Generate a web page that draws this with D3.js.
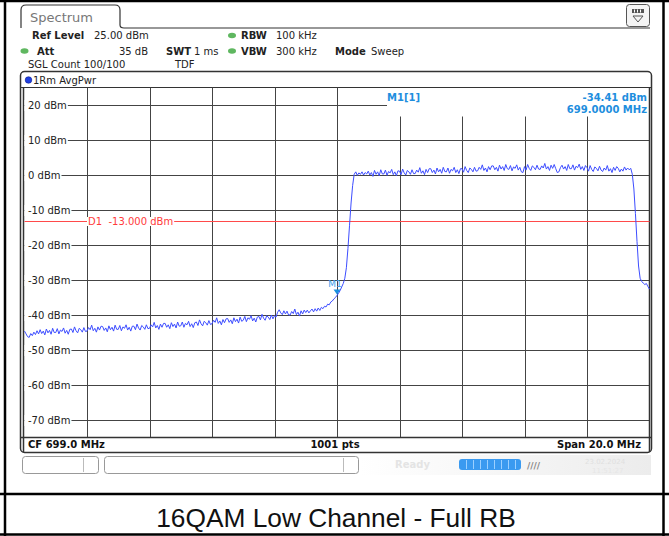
<!DOCTYPE html>
<html><head><meta charset="utf-8">
<script src="https://cdn.jsdelivr.net/npm/d3@7/dist/d3.min.js"></script>
<style>body{margin:0;background:#fff}svg{display:block}</style>
</head><body>
<script>
// ---------- data ----------
const freqStartMHz = 689.0;      // CF 699.0 MHz, span 20 MHz
const freqStopMHz = 709.0;
const freqStepMHz = 0.05;
// trace level (dBm) at each 0.05 MHz step from 689.0 to 709.0 (one row = 0.5 MHz)
const traceLevels = [
 -44.6,-45.4,-46.2,-46.4,-45.3,-45.9,-44.9,-45.6,-44.5,-45.4,
 -44.2,-45.3,-44.6,-45.7,-44.0,-45.1,-44.4,-45.5,-43.8,-45.0,
 -45.0,-43.9,-45.4,-44.3,-44.7,-43.7,-45.2,-44.4,-45.5,-44.1,
 -44.0,-45.0,-43.4,-44.5,-45.1,-43.8,-44.2,-44.9,-43.6,-44.7,
 -44.6,-43.6,-44.2,-42.9,-44.5,-43.8,-44.9,-43.4,-44.3,-43.2,
 -43.3,-44.4,-43.7,-44.8,-43.1,-44.2,-43.5,-44.6,-42.9,-44.1,
 -44.1,-43.0,-44.5,-43.4,-43.8,-42.8,-44.3,-43.5,-44.6,-43.2,
 -43.2,-44.2,-42.6,-43.7,-44.3,-43.0,-43.4,-44.1,-42.8,-43.9,
 -43.8,-42.8,-43.4,-42.1,-43.7,-43.0,-44.1,-42.6,-43.5,-42.4,
 -42.4,-43.5,-42.8,-43.9,-42.2,-43.3,-42.6,-43.7,-42.0,-43.2,
 -43.1,-42.0,-43.5,-42.4,-42.8,-41.8,-43.3,-42.5,-43.6,-42.2,
 -42.0,-43.0,-41.4,-42.5,-43.1,-41.8,-42.2,-42.9,-41.6,-42.7,
 -42.5,-41.5,-42.1,-40.8,-42.4,-41.7,-42.8,-41.3,-42.2,-41.1,
 -41.0,-42.1,-41.4,-42.5,-40.8,-41.9,-41.2,-42.3,-40.6,-41.8,
 -41.5,-40.4,-41.9,-40.8,-41.2,-40.2,-41.7,-40.9,-42.0,-40.6,
 -40.4,-41.4,-39.8,-40.9,-41.5,-40.2,-40.6,-41.3,-40.0,-41.1,
 -40.2,-40.6,-39.2,-38.5,-39.4,-39.9,-38.8,-39.7,-38.9,-40.0,
 -40.0,-39.0,-39.6,-38.3,-39.9,-39.2,-40.3,-38.8,-39.7,-38.6,
 -39.3,-38.6,-39.4,-38.8,-38.3,-39.1,-38.2,-38.9,-38.0,-38.7,
 -37.8,-38.2,-37.5,-37.7,-36.9,-37.1,-36.3,-36.0,-35.4,-35.0,
 -34.4,-33.8,-33.0,-32.0,-31.0,-29.5,-26.5,-21.0,-14.5,-8.0,
 -3.0,0.2,0.9,-0.1,0.6,0.2,0.9,0.0,0.7,0.3,
 1.1,0.0,0.7,-0.4,1.3,0.2,0.9,-0.2,1.5,0.3,
 0.3,1.4,-0.1,1.0,0.6,1.6,0.1,0.9,-0.2,1.2,
 1.1,0.1,1.7,0.6,0.0,1.3,0.9,0.2,1.5,0.4,
 0.4,1.4,0.8,2.1,0.5,1.2,0.1,1.6,0.7,1.8,
 1.8,0.7,1.4,0.3,2.0,0.9,1.6,0.5,2.2,1.0,
 0.9,2.0,0.5,1.6,1.2,2.2,0.7,1.5,0.4,1.8,
 1.8,0.8,2.4,1.3,0.7,2.0,1.6,0.9,2.2,1.1,
 1.2,2.2,1.6,2.9,1.3,2.0,0.9,2.4,1.5,2.6,
 2.6,1.5,2.2,1.1,2.8,1.7,2.4,1.3,3.0,1.8,
 1.6,2.7,1.2,2.3,1.9,2.9,1.4,2.2,0.9,0.7,
 2.4,1.4,3.0,1.9,1.3,2.6,2.2,1.5,2.8,1.7,
 1.6,2.6,2.0,3.3,1.7,2.4,1.3,2.8,1.9,3.0,
 1.8,0.7,0.9,2.1,2.8,1.7,2.4,1.3,3.0,1.8,
 1.8,2.9,1.4,2.5,2.1,3.1,1.6,2.4,1.3,2.7,
 2.1,1.1,2.7,1.6,1.0,2.3,1.9,1.2,2.5,1.4,
 1.0,2.0,1.4,2.7,1.1,1.8,0.7,2.2,1.3,2.4,
 1.9,0.9,1.7,1.1,2.3,1.4,2.0,1.5,1.9,0.2,
 -4.0,-11.0,-19.0,-26.0,-29.5,-30.4,-30.9,-31.3,-31.0,-31.9,
 -32.6
];
const levelTicks = [20,10,0,-10,-20,-30,-40,-50,-60,-70];
const levelTickLabels = ["20 dBm","10 dBm","0 dBm","-10 dBm","-20 dBm","-30 dBm","-40 dBm","-50 dBm","-60 dBm","-70 dBm"];
const freqGrid = [691,693,695,697,699,701,703,705,707];
const refLevel = 25, bottomLevel = -75;
const displayLine = -13.0;
const markerFreq = 699.0, markerLevel = -34.41;
const infoLine1 = [["Ref Level","25.00 dBm"],["RBW","100 kHz"]];
const captionText = "16QAM Low Channel - Full RB";

// ---------- drawing ----------
const W = 669, H = 536;
const svg = d3.select("body").append("svg").attr("width", W).attr("height", H);
const F = "DejaVu Sans, Verdana, sans-serif";

const x = d3.scaleLinear().domain([freqStartMHz, freqStopMHz]).range([24.5, 649.5]);
const y = d3.scaleLinear().domain([bottomLevel, refLevel]).range([437.5, 87.5]);

// outer table frame
const frame = svg.append("g").attr("stroke", "#000").attr("fill", "none");
frame.append("line").attr("x1",0).attr("x2",W).attr("y1",1).attr("y2",1).attr("stroke-width",2.5);
frame.append("line").attr("x1",5).attr("x2",5).attr("y1",0).attr("y2",536).attr("stroke-width",2.5);
frame.append("line").attr("x1",663.5).attr("x2",663.5).attr("y1",0).attr("y2",536).attr("stroke-width",2.5);
frame.append("line").attr("x1",0).attr("x2",W).attr("y1",494).attr("y2",494).attr("stroke-width",2.5);
frame.append("line").attr("x1",0).attr("x2",W).attr("y1",534.5).attr("y2",534.5).attr("stroke-width",2.5);

// Spectrum tab
svg.append("path")
  .attr("d","M21,28 L21,10 Q21,5 26,5 L115,5 Q120,5 120,10 L120,25 Q120,28 124,28 L650,28")
  .attr("fill","none").attr("stroke","#333").attr("stroke-width",1.2);
svg.append("text").attr("x",30).attr("y",22).attr("font-family",F).attr("font-size",13)
  .attr("fill","#777").text("Spectrum");

// top-right button
const btn = svg.append("g");
btn.append("rect").attr("x",626.5).attr("y",4.5).attr("width",23).attr("height",22).attr("rx",3)
  .attr("fill","#f4f4f4").attr("stroke","#555");
btn.append("rect").attr("x",632).attr("y",9).attr("width",12).attr("height",4).attr("fill","#555");
[634.5,637.5,640.5].forEach(v=>btn.append("line").attr("x1",v).attr("x2",v).attr("y1",9.5).attr("y2",12.5).attr("stroke","#fff").attr("stroke-width",1));
btn.append("path").attr("d","M633,16 L643,16 L638,22 Z").attr("fill","none").attr("stroke","#555");

// info lines
const info = svg.append("g").attr("font-family",F).attr("font-size",10).attr("fill","#222");
function t(xp, yp, s, bold, anchor){
  info.append("text").attr("x",xp).attr("y",yp).attr("font-weight",bold?"bold":"normal")
    .attr("text-anchor",anchor||"start").text(s);
}
function dot(cx, cy){
  svg.append("ellipse").attr("cx",cx).attr("cy",cy).attr("rx",4).attr("ry",2.8).attr("fill","#5fb760");
}
t(32,39,infoLine1[0][0],true); t(94,39,infoLine1[0][1],false);
dot(232,35.5); t(241,39,infoLine1[1][0],true); t(276,39,infoLine1[1][1],false);
dot(24.5,51); t(37,55,"Att",true); t(148,55,"35 dB",false,"end");
t(166,55,"SWT",true); t(194,55,"1 ms",false);
dot(232,51); t(241,55,"VBW",true); t(276,55,"300 kHz",false);
t(335,55,"Mode",true); t(371,55,"Sweep",false);
t(28,68,"SGL Count 100/100",false); t(175,68,"TDF",false);

// plot panel
svg.append("rect").attr("x",20.5).attr("y",71.5).attr("width",631).attr("height",381).attr("rx",4)
  .attr("fill","#fff").attr("stroke","#333").attr("stroke-width",1.5);
svg.append("circle").attr("cx",28.5).attr("cy",80).attr("r",3.3).attr("fill","#1f3fe0").attr("stroke","#0a1a90").attr("stroke-width",0.6);
svg.append("text").attr("x",33).attr("y",84).attr("font-family",F).attr("font-size",10).attr("fill","#222").text("1Rm AvgPwr");
svg.append("line").attr("x1",21).attr("x2",651).attr("y1",87.5).attr("y2",87.5).attr("stroke","#333");

// grid
const grid = svg.append("g").attr("stroke","#444").attr("stroke-width",1);
freqGrid.forEach(f=>{
  const top = f > markerFreq ? 116.5 : 87.5;
  grid.append("line").attr("x1",Math.round(x(f))+0.5).attr("x2",Math.round(x(f))+0.5)
    .attr("y1",top).attr("y2",y(bottomLevel));
});
levelTicks.forEach(v=>{
  const x2 = v === 20 ? 387 : x(freqStopMHz);
  grid.append("line").attr("x1",x(freqStartMHz)).attr("x2",x2)
    .attr("y1",Math.round(y(v))+0.5).attr("y2",Math.round(y(v))+0.5);
});
// plot border lines
svg.append("line").attr("x1",23.5).attr("x2",23.5).attr("y1",87.5).attr("y2",452).attr("stroke","#333").attr("stroke-width",1.5);
svg.append("line").attr("x1",649.5).attr("x2",649.5).attr("y1",87.5).attr("y2",452).attr("stroke","#333").attr("stroke-width",1.5);
svg.append("line").attr("x1",21).attr("x2",651).attr("y1",437.5).attr("y2",437.5).attr("stroke","#333").attr("stroke-width",1.5);

// y labels with white background
const yl = svg.append("g").attr("font-family",F).attr("font-size",10).attr("fill","#222");
levelTicks.forEach((v,i)=>{
  const g = yl.append("g");
  const tx = g.append("text").attr("x",28).attr("y",Math.round(y(v))+4).text(levelTickLabels[i]);
  const bb = tx.node().getBBox();
  g.insert("rect","text").attr("x",24.5).attr("y",bb.y).attr("width",bb.x+bb.width+1-24.5).attr("height",bb.height).attr("fill","#fff");
});

// display line D1
svg.append("line").attr("x1",x(freqStartMHz)).attr("x2",x(freqStopMHz))
  .attr("y1",Math.round(y(displayLine))+0.5).attr("y2",Math.round(y(displayLine))+0.5)
  .attr("stroke","#ff4a4a").attr("stroke-width",1);
const d1g = svg.append("g");
const d1 = d1g.append("text").attr("x",88).attr("y",Math.round(y(displayLine))+4)
  .attr("font-family",F).attr("font-size",10).attr("fill","#ff3b3b")
  .style("white-space","pre").text("D1  -13.000 dBm");
const d1bb = d1.node().getBBox();
d1g.insert("rect","text").attr("x",d1bb.x-1).attr("y",d1bb.y+1).attr("width",d1bb.width+2).attr("height",d1bb.height-2).attr("fill","#fff");

// trace
const pts = traceLevels.map((v,i)=>[freqStartMHz + i*freqStepMHz, v]);
svg.append("path").datum(pts)
  .attr("d", d3.line().x(d=>x(d[0])).y(d=>y(d[1])))
  .attr("fill","none").attr("stroke","#3d4dff").attr("stroke-width",1);

// marker
const mx = x(markerFreq), my = y(markerLevel);
svg.append("path").attr("d",`M${mx-3.5},${my-6} L${mx+3.5},${my-6} L${mx},${my-1} Z`).attr("fill","#1a8fe0");
svg.append("text").attr("x",mx-2).attr("y",my-8).attr("text-anchor","middle")
  .attr("font-family",F).attr("font-size",9).attr("fill","#3aa0ea").text("M1");

// marker readout
const mr = svg.append("g").attr("font-family",F).attr("font-size",10).attr("font-weight","bold").attr("fill","#1e8ede");
mr.append("text").attr("x",387).attr("y",101).text("M1[1]");
mr.append("text").attr("x",647).attr("y",101).attr("text-anchor","end").text(markerLevel.toFixed(2)+" dBm");
mr.append("text").attr("x",647).attr("y",113).attr("text-anchor","end").text(markerFreq.toFixed(4)+" MHz");

// bottom label row
const bl = svg.append("g").attr("font-family",F).attr("font-size",10).attr("font-weight","bold").attr("fill","#111");
bl.append("text").attr("x",28).attr("y",448).text("CF "+((freqStartMHz+freqStopMHz)/2).toFixed(1)+" MHz");
bl.append("text").attr("x",335).attr("y",448).attr("text-anchor","middle").text("1001 pts");
bl.append("text").attr("x",641).attr("y",448).attr("text-anchor","end").text("Span "+(freqStopMHz-freqStartMHz).toFixed(1)+" MHz");

// status bar
const sb = svg.append("g");
const grad = svg.append("defs").append("linearGradient").attr("id","sbg");
grad.append("stop").attr("offset","0%").attr("stop-color","#ffffff");
grad.append("stop").attr("offset","100%").attr("stop-color","#ececec");
sb.append("rect").attr("x",360).attr("y",455).attr("width",291).attr("height",20).attr("fill","url(#sbg)");
sb.append("rect").attr("x",22.5).attr("y",456.5).attr("width",76).attr("height",17).attr("rx",3).attr("fill","#fff").attr("stroke","#999");
sb.append("line").attr("x1",83.5).attr("x2",83.5).attr("y1",458).attr("y2",472).attr("stroke","#bbb");
sb.append("rect").attr("x",104.5).attr("y",456.5).attr("width",254).attr("height",17).attr("rx",3).attr("fill","#fff").attr("stroke","#999");
sb.append("line").attr("x1",343.5).attr("x2",343.5).attr("y1",458).attr("y2",472).attr("stroke","#bbb");
sb.append("text").attr("x",395).attr("y",468).attr("font-family",F).attr("font-size",10).attr("font-weight","bold").attr("fill","#e4e4e4").text("Ready");
sb.append("rect").attr("x",459).attr("y",459).attr("width",62).attr("height",11).attr("rx",3).attr("fill","#3a9af0");
d3.range(8).forEach(i=>sb.append("line").attr("x1",466.5+i*7).attr("x2",466.5+i*7).attr("y1",460).attr("y2",469).attr("stroke","#9cd0ff").attr("stroke-width",1));
sb.append("text").attr("x",527).attr("y",469).attr("font-family",F).attr("font-size",9).attr("font-weight","bold").attr("fill","#888").text("////");
sb.append("text").attr("x",585).attr("y",464).attr("font-family",F).attr("font-size",7).attr("fill","#e0e0e0").text("23.02.2024");
sb.append("text").attr("x",592).attr("y",473).attr("font-family",F).attr("font-size",7).attr("fill","#e6e6e6").text("11:51:27");

// caption
svg.append("text").attr("x",336).attr("y",527).attr("text-anchor","middle")
  .attr("font-family","Liberation Sans, Arial, sans-serif").attr("font-size",26.3).attr("fill","#111")
  .text(captionText);
</script>
</body></html>
